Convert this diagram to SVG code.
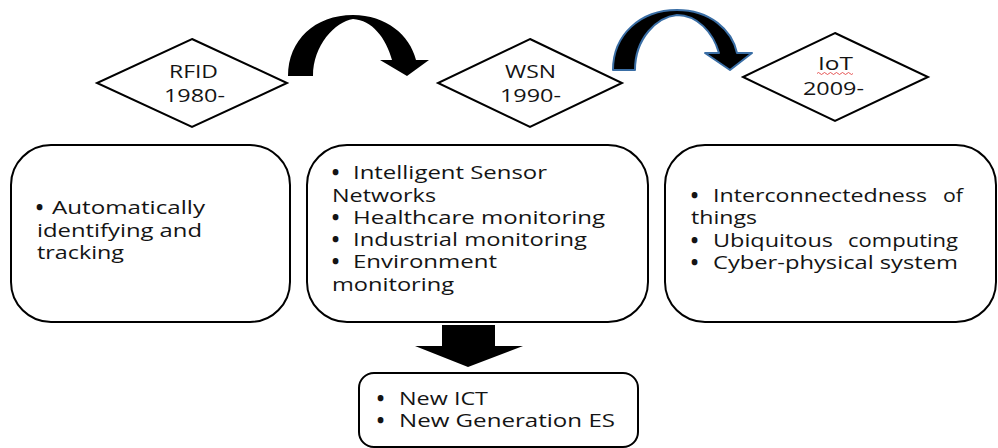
<svg xmlns="http://www.w3.org/2000/svg" width="998" height="448" viewBox="0 0 998 448">
  <style>
    .shape { fill: #ffffff; stroke: #000000; stroke-width: 2; }
    .txt, .lbl { font-family: "Open Sans", "Liberation Sans", sans-serif; font-size: 18px; font-weight: 500; fill: #141414; }
    .bul { font-weight: 800; }
    .arc { fill: #000000; }
    .arc-blue { fill: #000000; stroke: #3a6ea5; stroke-width: 2; stroke-linejoin: round; }
  </style>

  <!-- era diamonds -->
  <g id="rfid">
    <polygon class="shape" points="192,39 287,83 192,127 97,83"/>
    <text class="lbl" x="169" y="78" textLength="49" lengthAdjust="spacingAndGlyphs">RFID</text>
    <text class="lbl" x="164" y="102" textLength="61" lengthAdjust="spacingAndGlyphs">1980-</text>
  </g>
  <g id="wsn">
    <polygon class="shape" points="530,39 622,83 530,127 438,83"/>
    <text class="lbl" x="505" y="78" textLength="51" lengthAdjust="spacingAndGlyphs">WSN</text>
    <text class="lbl" x="500" y="102" textLength="61" lengthAdjust="spacingAndGlyphs">1990-</text>
  </g>
  <g id="iot">
    <polygon class="shape" points="835,33 928,77 835,121 743,77"/>
    <text class="lbl" x="818" y="70" textLength="35" lengthAdjust="spacingAndGlyphs">IoT</text>
    <path d="M817,73.5 q1.5,-2 3,0 t3,0 t3,0 t3,0 t3,0 t3,0 t3,0 t3,0 t3,0 t3,0 t3,0 t3,0" fill="none" stroke="#e03030" stroke-width="0.8"/>
    <text class="lbl" x="803" y="95" textLength="61" lengthAdjust="spacingAndGlyphs">2009-</text>
  </g>

  <!-- description boxes -->
  <g id="rfid-box">
    <rect class="shape" x="11" y="145" width="279" height="177" rx="40" ry="40"/>
    <text class="txt" y="214"><tspan class="bul" x="36">•</tspan><tspan x="52" textLength="153" lengthAdjust="spacingAndGlyphs">Automatically</tspan></text>
    <text class="txt" x="37" y="237" textLength="165" lengthAdjust="spacingAndGlyphs">identifying and</text>
    <text class="txt" x="37" y="259" textLength="87" lengthAdjust="spacingAndGlyphs">tracking</text>
  </g>
  <g id="wsn-box">
    <rect class="shape" x="307" y="145" width="341" height="177" rx="40" ry="40"/>
    <text class="txt" y="179"><tspan class="bul" x="332">•</tspan><tspan x="353" textLength="194" lengthAdjust="spacingAndGlyphs">Intelligent Sensor</tspan></text>
    <text class="txt" x="332" y="202" textLength="104" lengthAdjust="spacingAndGlyphs">Networks</text>
    <text class="txt" y="224"><tspan class="bul" x="332">•</tspan><tspan x="353" textLength="252" lengthAdjust="spacingAndGlyphs">Healthcare monitoring</tspan></text>
    <text class="txt" y="246"><tspan class="bul" x="332">•</tspan><tspan x="353" textLength="234" lengthAdjust="spacingAndGlyphs">Industrial monitoring</tspan></text>
    <text class="txt" y="268"><tspan class="bul" x="332">•</tspan><tspan x="353" textLength="144" lengthAdjust="spacingAndGlyphs">Environment</tspan></text>
    <text class="txt" x="332" y="291" textLength="122" lengthAdjust="spacingAndGlyphs">monitoring</text>
  </g>
  <g id="iot-box">
    <rect class="shape" x="665" y="145" width="331" height="177" rx="40" ry="40"/>
    <text class="txt" y="202"><tspan class="bul" x="691">•</tspan><tspan x="713" textLength="214" lengthAdjust="spacingAndGlyphs">Interconnectedness</tspan><tspan x="943" textLength="20" lengthAdjust="spacingAndGlyphs">of</tspan></text>
    <text class="txt" x="691" y="224" textLength="66" lengthAdjust="spacingAndGlyphs">things</text>
    <text class="txt" y="247"><tspan class="bul" x="691">•</tspan><tspan x="713" textLength="120" lengthAdjust="spacingAndGlyphs">Ubiquitous</tspan><tspan x="848" textLength="110" lengthAdjust="spacingAndGlyphs">computing</tspan></text>
    <text class="txt" y="269"><tspan class="bul" x="691">•</tspan><tspan x="713" textLength="245" lengthAdjust="spacingAndGlyphs">Cyber-physical system</tspan></text>
  </g>
  <g id="result-box">
    <rect class="shape" x="359" y="373" width="279" height="74" rx="15" ry="15"/>
    <text class="txt" y="405"><tspan class="bul" x="377">•</tspan><tspan x="399" textLength="89" lengthAdjust="spacingAndGlyphs">New ICT</tspan></text>
    <text class="txt" y="427"><tspan class="bul" x="377">•</tspan><tspan x="399" textLength="216" lengthAdjust="spacingAndGlyphs">New Generation ES</tspan></text>
  </g>

  <!-- connectors -->
  <g id="connectors">
    <path class="arc" d="M288,76 C288,40 315,15 353,15 C386,15 410,35 416,60 L429,60 L407,76 L380,60 L392,60 C386,38 372,20 353,19 C335,22 313,45 313,76 Z"/>
    <path class="arc-blue" d="M613,70 C613,35 640,10 677,10 C710,10 732,30 737,53 L752,53 L730,70 L705,53 L719,53 C713,32 697,15 677,15 C657,17 635,38 635,70 Z"/>
    <polygon class="arc" points="442,325 495,325 495,346 523,346 468,367 415,346 442,346"/>
  </g>
</svg>
